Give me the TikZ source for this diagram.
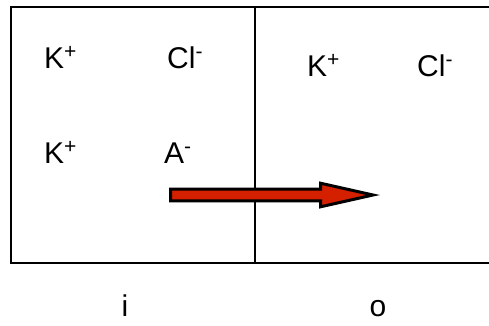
\documentclass[tikz,border=0pt]{standalone}
\usepackage{fontspec}
\setmainfont{Liberation Sans}
\definecolor{arrowred}{RGB}{213,32,0}
\begin{document}
\begin{tikzpicture}[
  x=1pt, y=-1pt,
  ion/.style={anchor=base west, inner sep=0pt, font=\fontsize{30}{33}\selectfont},
  side/.style={anchor=base, inner sep=0pt, font=\fontsize{30}{33}\selectfont},
  wall/.style={draw=black, line width=1.6pt},
  flux/.style={draw=black, line width=3pt, fill=arrowred, line join=miter}
]
\useasboundingbox (0,0) rectangle (489,325);

%% -- Compartments ----------------------------------------------
\coordinate (tl) at (11,7);
\coordinate (tr) at (489,7);
\coordinate (bl) at (11,263);
\coordinate (br) at (489,263);
\coordinate (mt) at (255,7);
\coordinate (mb) at (255,263);

\draw[wall] (tr) -- (tl) -- (bl) -- (br);
\draw[wall] (mt) -- (mb);

%% -- Ions ------------------------------------------------------
\node[ion] (kin1)  at (44,68)   {K\textsuperscript{+}};
\node[ion] (clin)  at (167,68)  {Cl\textsuperscript{-}};
\node[ion] (kin2)  at (44,163)  {K\textsuperscript{+}};
\node[ion] (ain)   at (164,163) {A\textsuperscript{-}};
\node[ion] (kout)  at (307,76)  {K\textsuperscript{+}};
\node[ion] (clout) at (417,76)  {Cl\textsuperscript{-}};

%% -- Side labels -----------------------------------------------
\node[side] (inside)  at (125,316) {i};
\node[side] (outside) at (378,316) {o};

%% -- Efflux arrow ----------------------------------------------
\draw[flux] (170.5,189.2) -- (320.5,189.2) -- (320.5,183.2) -- (373,195)
  -- (320.5,206.8) -- (320.5,200.8) -- (170.5,200.8) -- cycle;

\end{tikzpicture}
\end{document}
